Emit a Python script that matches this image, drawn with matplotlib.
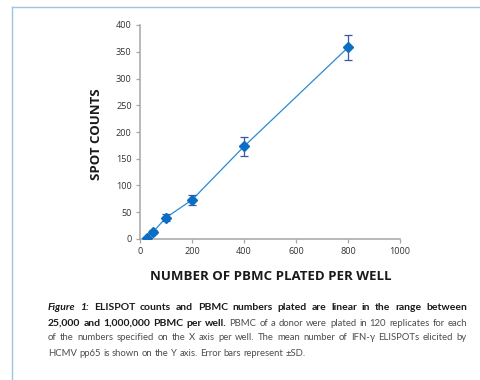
import matplotlib
matplotlib.use("Agg")
import matplotlib.pyplot as plt
from matplotlib.lines import Line2D

# ---- data ----
pbmc = [25, 50, 100, 200, 400, 800]
spots = [2, 13, 40, 73, 173, 358]
sd = [2, 4, 6, 9, 17, 23]
xticks = [0, 200, 400, 600, 800, 1000]
yticks = [0, 50, 100, 150, 200, 250, 300, 350, 400]
xlabel = "NUMBER OF PBMC PLATED PER WELL"
ylabel = "SPOT COUNTS"

caption_lines = [
    [("Figure 1:", "bold", "italic"), ("ELISPOT counts and PBMC numbers plated are linear in the range between", "bold", "normal")],
    [("25,000 and 1,000,000 PBMC per well.", "bold", "normal"), ("PBMC of a donor were plated in 120 replicates for each", "normal", "normal")],
    [("of the numbers specified on the X axis per well. The mean number of IFN-γ ELISPOTs elicited by", "normal", "normal")],
    [("HCMV pp65 is shown on the Y axis. Error bars represent ±SD.", "normal", "normal")],
]

W, H = 481, 380
fig = plt.figure(figsize=(W / 100, H / 100), dpi=100)
fig.patch.set_facecolor("white")

# frame lines
fc = "#9dc3e6"
fig.add_artist(Line2D([12 / W, 12 / W], [0, 1 - 7 / H], color=fc, lw=1.0, transform=fig.transFigure))
fig.add_artist(Line2D([12 / W, 1], [1 - 7 / H, 1 - 7 / H], color=fc, lw=1.0, transform=fig.transFigure))

ax = fig.add_axes([140 / W, 1 - 239 / H, 260 / W, 214 / H])
ax.plot(pbmc, spots, color="#2a8ad4", lw=0.9, zorder=2)
ax.errorbar(pbmc, spots, yerr=sd, fmt="none", ecolor="#3a56a8", elinewidth=0.9,
            capsize=2.6, capthick=0.9, zorder=3)
ax.plot(pbmc, spots, ls="none", marker="D", ms=4.8, color="#0a6fc2", mec="#0a6fc2", zorder=4)

ax.set_xlim(0, 1000)
ax.set_ylim(0, 400)
ax.set_xticks(xticks)
ax.set_yticks(yticks)
ax.set_xticklabels([str(v) for v in xticks], fontsize=6.6, family="Open Sans", color="#333333")
ax.set_yticklabels([str(v) for v in yticks], fontsize=6.6, family="Open Sans", color="#333333")
for s in ["top", "right"]:
    ax.spines[s].set_visible(False)
for s in ["left", "bottom"]:
    ax.spines[s].set_color("#a6a6a6")
    ax.spines[s].set_linewidth(1.1)
ax.tick_params(axis="both", colors="#a6a6a6", labelcolor="#333333", length=3, width=0.9)
ax.tick_params(axis="y", pad=3)
ax.tick_params(axis="x", pad=2.5)

fig.text(271 / W, 1 - 277 / H, xlabel, ha="center", va="center", fontsize=9.5,
         fontweight="bold", family="Open Sans", color="#1a1a1a")
fig.text(97 / W, 1 - 134 / H, ylabel, ha="center", va="center", rotation=90, fontsize=9.5,
         fontweight="bold", family="Open Sans", color="#1a1a1a")

# ---- caption (justified) ----
fs_bold = 7.5
fs_reg = 6.8
cap_family = "Lato"
x0, x1 = 48, 467
ys = [307, 323, 338, 353]
fig.canvas.draw()
renderer = fig.canvas.get_renderer()

def fsz(weight):
    return fs_bold if weight == "bold" else fs_reg

def word_width(word, weight, style):
    t = fig.text(0, 0, word, fontsize=fsz(weight), family=cap_family, fontweight=weight, fontstyle=style)
    w = t.get_window_extent(renderer).width
    t.remove()
    return w

space_w = word_width("a a", "normal", "normal") - word_width("aa", "normal", "normal")
for i, (segs, y) in enumerate(zip(caption_lines, ys)):
    words = []
    for text, weight, style in segs:
        for wd in text.split(" "):
            words.append((wd, weight, style))
    widths = [word_width(*w) for w in words]
    last = i == len(caption_lines) - 1
    if last:
        gap = space_w
    else:
        gap = (x1 - x0 - sum(widths)) / (len(words) - 1)
    x = x0
    for (wd, weight, style), w in zip(words, widths):
        col = "#1a1a1a" if weight == "bold" else "#4d4d4d"
        fig.text(x / W, 1 - y / H, wd, fontsize=fsz(weight), family=cap_family, fontweight=weight,
                 fontstyle=style, color=col, ha="left", va="center")
        x += w + gap

fig.savefig("out.png", dpi=100, facecolor="white")
